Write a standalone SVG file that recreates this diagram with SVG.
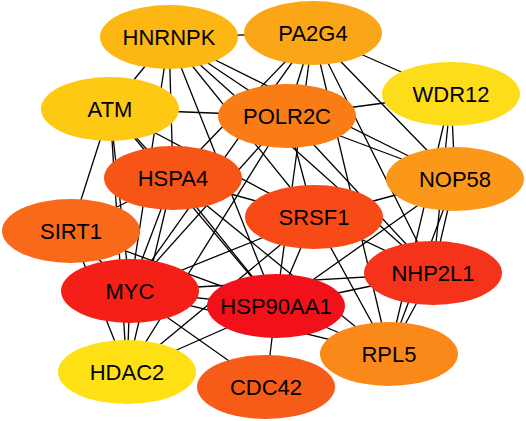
<svg xmlns="http://www.w3.org/2000/svg" width="526" height="421" viewBox="0 0 526 421">
<style>
.e{stroke:#000;stroke-width:1.3;fill:none}
.n text{font-family:"Liberation Sans",Arial,sans-serif;font-size:22px;fill:#000;text-anchor:middle}
</style>
<rect width="526" height="421" fill="#fff"/>
<g id="edges" class="e">
<line x1="169" y1="37" x2="313" y2="33"/>
<line x1="169" y1="37" x2="110" y2="109"/>
<line x1="169" y1="37" x2="173" y2="178"/>
<line x1="169" y1="37" x2="130" y2="291"/>
<line x1="169" y1="37" x2="276" y2="306"/>
<line x1="169" y1="37" x2="314" y2="217"/>
<line x1="169" y1="37" x2="287" y2="116"/>
<line x1="169" y1="37" x2="433" y2="273"/>
<line x1="169" y1="37" x2="455" y2="179"/>
<line x1="313" y1="33" x2="451" y2="94"/>
<line x1="313" y1="33" x2="173" y2="178"/>
<line x1="313" y1="33" x2="130" y2="291"/>
<line x1="313" y1="33" x2="287" y2="116"/>
<line x1="313" y1="33" x2="276" y2="306"/>
<line x1="313" y1="33" x2="389" y2="354"/>
<line x1="313" y1="33" x2="433" y2="273"/>
<line x1="313" y1="33" x2="455" y2="179"/>
<line x1="451" y1="94" x2="287" y2="116"/>
<line x1="451" y1="94" x2="455" y2="179"/>
<line x1="451" y1="94" x2="433" y2="273"/>
<line x1="451" y1="94" x2="389" y2="354"/>
<line x1="110" y1="109" x2="287" y2="116"/>
<line x1="110" y1="109" x2="71" y2="231"/>
<line x1="110" y1="109" x2="130" y2="291"/>
<line x1="110" y1="109" x2="127" y2="372"/>
<line x1="110" y1="109" x2="173" y2="178"/>
<line x1="110" y1="109" x2="314" y2="217"/>
<line x1="110" y1="109" x2="276" y2="306"/>
<line x1="287" y1="116" x2="455" y2="179"/>
<line x1="287" y1="116" x2="314" y2="217"/>
<line x1="287" y1="116" x2="127" y2="372"/>
<line x1="287" y1="116" x2="130" y2="291"/>
<line x1="287" y1="116" x2="433" y2="273"/>
<line x1="173" y1="178" x2="71" y2="231"/>
<line x1="173" y1="178" x2="314" y2="217"/>
<line x1="173" y1="178" x2="276" y2="306"/>
<line x1="173" y1="178" x2="389" y2="354"/>
<line x1="173" y1="178" x2="130" y2="291"/>
<line x1="173" y1="178" x2="127" y2="372"/>
<line x1="455" y1="179" x2="314" y2="217"/>
<line x1="455" y1="179" x2="276" y2="306"/>
<line x1="455" y1="179" x2="433" y2="273"/>
<line x1="455" y1="179" x2="389" y2="354"/>
<line x1="71" y1="231" x2="130" y2="291"/>
<line x1="71" y1="231" x2="127" y2="372"/>
<line x1="71" y1="231" x2="276" y2="306"/>
<line x1="314" y1="217" x2="130" y2="291"/>
<line x1="314" y1="217" x2="276" y2="306"/>
<line x1="314" y1="217" x2="127" y2="372"/>
<line x1="314" y1="217" x2="433" y2="273"/>
<line x1="314" y1="217" x2="389" y2="354"/>
<line x1="130" y1="291" x2="127" y2="372"/>
<line x1="130" y1="291" x2="276" y2="306"/>
<line x1="130" y1="291" x2="266" y2="387"/>
<line x1="130" y1="291" x2="433" y2="273"/>
<line x1="130" y1="291" x2="389" y2="354"/>
<line x1="433" y1="273" x2="389" y2="354"/>
<line x1="433" y1="273" x2="276" y2="306"/>
<line x1="276" y1="306" x2="127" y2="372"/>
<line x1="276" y1="306" x2="266" y2="387"/>
<line x1="276" y1="306" x2="389" y2="354"/>
</g>
<g id="HNRNPK" class="n"><ellipse cx="169" cy="37" rx="69" ry="32" fill="#FCB713"/><text x="169" y="45">HNRNPK</text></g>
<g id="PA2G4" class="n"><ellipse cx="313" cy="33" rx="69" ry="32" fill="#FBA616"/><text x="313" y="41">PA2G4</text></g>
<g id="WDR12" class="n"><ellipse cx="451" cy="94" rx="69" ry="32" fill="#FDDD1A"/><text x="451" y="102">WDR12</text></g>
<g id="ATM" class="n"><ellipse cx="110" cy="109" rx="69" ry="32" fill="#FDC912"/><text x="110" y="117">ATM</text></g>
<g id="POLR2C" class="n"><ellipse cx="287" cy="116" rx="69" ry="32" fill="#F97C16"/><text x="287" y="124">POLR2C</text></g>
<g id="HSPA4" class="n"><ellipse cx="173" cy="178" rx="69" ry="32" fill="#F75516"/><text x="173" y="186">HSPA4</text></g>
<g id="NOP58" class="n"><ellipse cx="455" cy="179" rx="69" ry="32" fill="#FB981A"/><text x="455" y="187">NOP58</text></g>
<g id="SIRT1" class="n"><ellipse cx="71" cy="231" rx="69" ry="32" fill="#F8691A"/><text x="71" y="239">SIRT1</text></g>
<g id="SRSF1" class="n"><ellipse cx="314" cy="217" rx="69" ry="32" fill="#F74A16"/><text x="314" y="225">SRSF1</text></g>
<g id="MYC" class="n"><ellipse cx="130" cy="291" rx="69" ry="32" fill="#F41F16"/><text x="130" y="299">MYC</text></g>
<g id="NHP2L1" class="n"><ellipse cx="433" cy="273" rx="69" ry="32" fill="#F5331A"/><text x="433" y="281">NHP2L1</text></g>
<g id="HSP90AA1" class="n"><ellipse cx="276" cy="306" rx="69" ry="32" fill="#F2111A"/><text x="276" y="314">HSP90AA1</text></g>
<g id="HDAC2" class="n"><ellipse cx="127" cy="372" rx="69" ry="32" fill="#FEE014"/><text x="127" y="380">HDAC2</text></g>
<g id="RPL5" class="n"><ellipse cx="389" cy="354" rx="69" ry="32" fill="#FB891A"/><text x="389" y="362">RPL5</text></g>
<g id="CDC42" class="n"><ellipse cx="266" cy="387" rx="69" ry="32" fill="#F65C18"/><text x="266" y="395">CDC42</text></g>
</svg>
